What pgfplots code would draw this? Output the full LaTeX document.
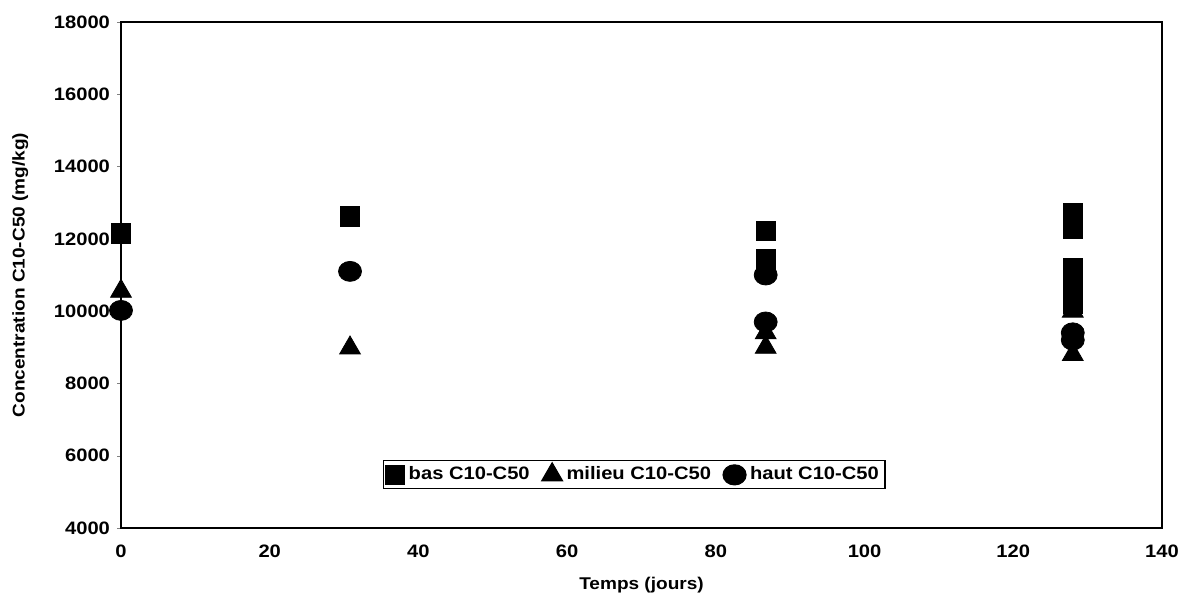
\documentclass[border=0pt]{standalone}
\usepackage{fontspec}
\setmainfont[FakeStretch=1.12]{Liberation Sans}
\usepackage{pgfplots}
\pgfplotsset{compat=1.18}

\begin{document}
\begin{tikzpicture}
\begin{axis}[
    name=ax,
    at={(0,0)}, anchor=south west,
    scale only axis,
    width=520.5pt, height=253pt,
    xmin=0, xmax=140, ymin=4000, ymax=18000,
    xtick={0,20,...,140}, ytick={4000,6000,...,18000},
    ytick pos=left,
    scaled ticks=false,
    /pgf/number format/assume math mode=true,
    /pgf/number format/set thousands separator={},
    tick label style={font=\fontsize{9}{10}\selectfont\bfseries},
    xticklabel style={yshift=-3pt},
    tick align=outside, major tick length=2pt,
    xtick style={draw=none},
    axis line style={line width=0.8pt},
    xlabel={Temps (jours)}, ylabel={Concentration C10-C50 (mg/kg)},
    label style={font=\fontsize{8.5}{10}\selectfont\bfseries},
    xlabel style={yshift=-3pt},
    ylabel style={yshift=6pt},
    legend columns=3,
    legend style={at={(0.493,0.105)}, anchor=center, draw=black, line width=0.6pt,
        font=\fontsize{9}{10}\selectfont\bfseries, inner sep=1pt,
        /tikz/every even column/.append style={column sep=4pt}},
    legend cell align=left,
    only marks,
]
\addplot[mark=square*, mark size=4.8pt, black] coordinates {
    (0,12150) (30.8,12620)
    (86.7,12220) (86.7,11450) (86.7,11250)
    (128,12720) (128,12280) (128,11200) (128,11000) (128,10600) (128,10400) (128,10200)
};
\addlegendentry{bas C10-C50}
\addplot[mark=triangle*, mark size=6pt, black] coordinates {
    (0,10550) (30.8,8980)
    (86.7,9400) (86.7,9000)
    (128,10000) (128,8800)
};
\addlegendentry{milieu C10-C50}
\addplot[mark=*, mark size=5pt, black, mark options={xscale=1.15}] coordinates {
    (0,10020) (30.8,11100)
    (86.7,11000) (86.7,9700)
    (128,9400) (128,9200)
};
\addlegendentry{haut C10-C50}
\end{axis}
\pgfresetboundingbox
\path (-60.5pt,-34.5pt) rectangle (541pt,264pt);
\end{tikzpicture}
\end{document}
